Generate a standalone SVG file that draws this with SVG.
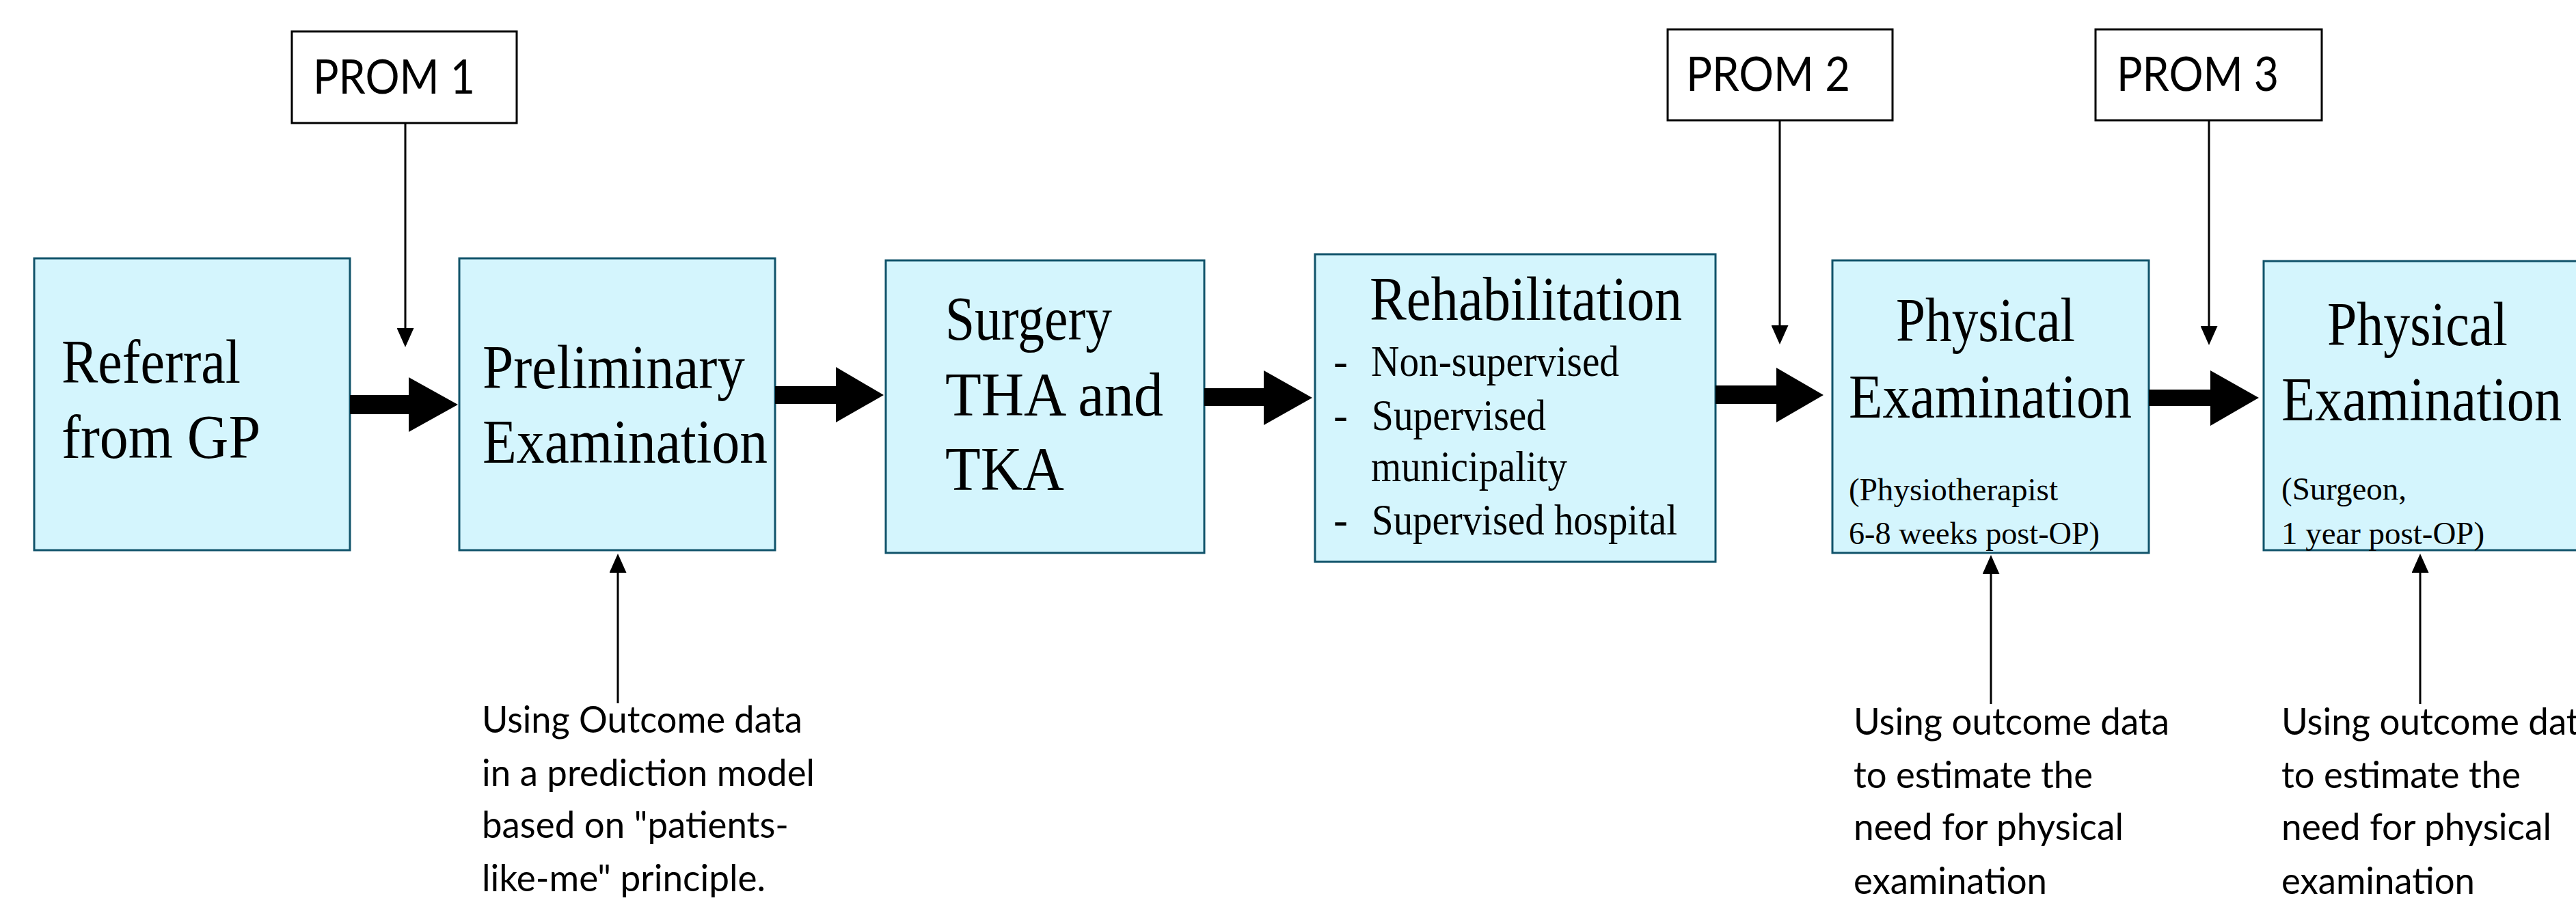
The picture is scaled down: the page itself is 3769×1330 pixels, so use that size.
<svg xmlns="http://www.w3.org/2000/svg" width="3769" height="1330" viewBox="0 0 3769 1330">
<style>
.box{fill:#D4F5FD;stroke:#10536A;stroke-width:3}
.prom{fill:#FFFFFF;stroke:#000000;stroke-width:3}
.big{font-family:"Liberation Serif","Times New Roman",serif;font-size:90px;fill:#000}
.mid{font-family:"Liberation Serif","Times New Roman",serif;font-size:63px;fill:#000}
.sm{font-family:"Liberation Serif","Times New Roman",serif;font-size:47px;fill:#000}
.sans{font-family:Lato,"Liberation Sans",Arial,sans-serif;font-size:70px;fill:#000}
.note{font-family:Lato,"Liberation Sans",Arial,sans-serif;font-size:54px;fill:#000}
.thin{stroke:#000;stroke-width:3;fill:none;marker-end:url(#head)}
.block{fill:#000}
</style>
<defs>
<marker id="head" markerUnits="userSpaceOnUse" markerWidth="28" markerHeight="25" refX="8" refY="12.5" orient="auto">
<path d="M0,0 L28,12.5 L0,25 Z" fill="#000"/>
</marker>
</defs>
<rect width="3769" height="1330" fill="#FFFFFF"/>

<g id="prom1">
<rect class="prom" x="427" y="46" width="329" height="134"/>
<text class="sans" x="458" y="137" textLength="237" lengthAdjust="spacingAndGlyphs">PROM 1</text>
</g>
<g id="prom2">
<rect class="prom" x="2440" y="43" width="329" height="133"/>
<text class="sans" x="2467" y="133" textLength="240" lengthAdjust="spacingAndGlyphs">PROM 2</text>
</g>
<g id="prom3">
<rect class="prom" x="3066" y="43" width="331" height="133"/>
<text class="sans" x="3097" y="133" textLength="237" lengthAdjust="spacingAndGlyphs">PROM 3</text>
</g>

<g id="referral">
<rect class="box" x="50" y="378" width="462" height="427"/>
<text class="big" x="90" y="560" textLength="262" lengthAdjust="spacingAndGlyphs">Referral</text>
<text class="big" x="90" y="670" textLength="291" lengthAdjust="spacingAndGlyphs">from GP</text>
</g>
<g id="preliminary">
<rect class="box" x="672" y="378" width="462" height="427"/>
<text class="big" x="706" y="568" textLength="384" lengthAdjust="spacingAndGlyphs">Preliminary</text>
<text class="big" x="706" y="677" textLength="417" lengthAdjust="spacingAndGlyphs">Examination</text>
</g>
<g id="surgery">
<rect class="box" x="1296" y="381" width="466" height="428"/>
<text class="big" x="1383" y="497" textLength="244" lengthAdjust="spacingAndGlyphs">Surgery</text>
<text class="big" x="1383" y="608" textLength="319" lengthAdjust="spacingAndGlyphs">THA and</text>
<text class="big" x="1383" y="717" textLength="174" lengthAdjust="spacingAndGlyphs">TKA</text>
</g>
<g id="rehabilitation">
<rect class="box" x="1924" y="372" width="586" height="450"/>
<text class="big" x="2004" y="468" font-size="89" textLength="457" lengthAdjust="spacingAndGlyphs">Rehabilitation</text>
<text class="mid" x="1951" y="550">-</text>
<text class="mid" x="2006" y="550" textLength="363" lengthAdjust="spacingAndGlyphs">Non-supervised</text>
<text class="mid" x="1951" y="629">-</text>
<text class="mid" x="2007" y="629" textLength="255" lengthAdjust="spacingAndGlyphs">Supervised</text>
<text class="mid" x="2006" y="704" textLength="287" lengthAdjust="spacingAndGlyphs">municipality</text>
<text class="mid" x="1951" y="782">-</text>
<text class="mid" x="2007" y="782" textLength="447" lengthAdjust="spacingAndGlyphs">Supervised hospital</text>
</g>
<g id="physical1">
<rect class="box" x="2681" y="381" width="463" height="428"/>
<text class="big" x="2774" y="499" textLength="262" lengthAdjust="spacingAndGlyphs">Physical</text>
<text class="big" x="2705" y="611" textLength="414" lengthAdjust="spacingAndGlyphs">Examination</text>
<text class="sm" x="2705" y="732" textLength="306" lengthAdjust="spacingAndGlyphs">(Physiotherapist</text>
<text class="sm" x="2705" y="796" textLength="367" lengthAdjust="spacingAndGlyphs">6-8 weeks post-OP)</text>
</g>
<g id="physical2">
<rect class="box" x="3312" y="382" width="480" height="423"/>
<text class="big" x="3405" y="505" textLength="264" lengthAdjust="spacingAndGlyphs">Physical</text>
<text class="big" x="3338" y="615" textLength="410" lengthAdjust="spacingAndGlyphs">Examination</text>
<text class="sm" x="3338" y="731" textLength="183" lengthAdjust="spacingAndGlyphs">(Surgeon,</text>
<text class="sm" x="3338" y="796" textLength="297" lengthAdjust="spacingAndGlyphs">1 year post-OP)</text>
</g>

<g id="note1">
<text class="note" x="705" y="1072" textLength="469" lengthAdjust="spacingAndGlyphs">Using Outcome data</text>
<text class="note" x="705" y="1150" textLength="487" lengthAdjust="spacingAndGlyphs">in a prediction model</text>
<text class="note" x="705" y="1226" textLength="449" lengthAdjust="spacingAndGlyphs">based on "patients-</text>
<text class="note" x="705" y="1304" textLength="415" lengthAdjust="spacingAndGlyphs">like-me" principle.</text>
</g>
<g id="note2">
<text class="note" x="2712" y="1075" textLength="462" lengthAdjust="spacingAndGlyphs">Using outcome data</text>
<text class="note" x="2712" y="1153" textLength="350" lengthAdjust="spacingAndGlyphs">to estimate the</text>
<text class="note" x="2712" y="1229" textLength="395" lengthAdjust="spacingAndGlyphs">need for physical</text>
<text class="note" x="2712" y="1308" textLength="283" lengthAdjust="spacingAndGlyphs">examination</text>
</g>
<g id="note3">
<text class="note" x="3338" y="1075" textLength="462" lengthAdjust="spacingAndGlyphs">Using outcome data</text>
<text class="note" x="3338" y="1153" textLength="350" lengthAdjust="spacingAndGlyphs">to estimate the</text>
<text class="note" x="3338" y="1229" textLength="395" lengthAdjust="spacingAndGlyphs">need for physical</text>
<text class="note" x="3338" y="1308" textLength="283" lengthAdjust="spacingAndGlyphs">examination</text>
</g>

<g id="connectors">
<polygon class="block" points="512,578 598,578 598,552 670,592 598,632 598,606 512,606"/>
<polygon class="block" points="1134,565 1223,565 1223,537 1293,578 1223,618 1223,591 1134,591"/>
<polygon class="block" points="1762,568 1849,568 1849,542 1920,582 1849,622 1849,594 1762,594"/>
<polygon class="block" points="2510,564 2599,564 2599,538 2668,578 2599,618 2599,591 2510,591"/>
<polygon class="block" points="3144,570 3234,570 3234,542 3305,582 3234,623 3234,594 3144,594"/>
<line class="thin" x1="593" y1="180" x2="593" y2="488"/>
<line class="thin" x1="2604" y1="176" x2="2604" y2="484"/>
<line class="thin" x1="3232" y1="176" x2="3232" y2="485"/>
<line class="thin" x1="904" y1="1029" x2="904" y2="830"/>
<line class="thin" x1="2913" y1="1030" x2="2913" y2="832"/>
<line class="thin" x1="3541" y1="1030" x2="3541" y2="830"/>
</g>
</svg>
